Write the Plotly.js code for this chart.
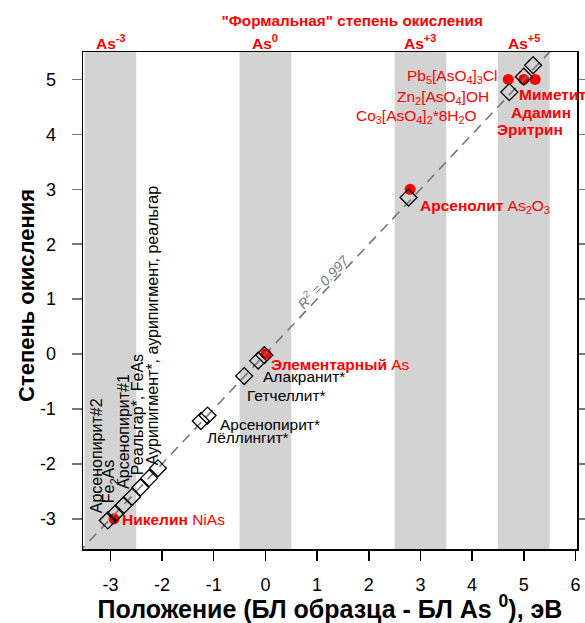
<!DOCTYPE html>
<html>
<head>
<meta charset="utf-8">
<script src="https://cdn.plot.ly/plotly-3.0.1.min.js"></script>
<style>
  html, body { margin: 0; padding: 0; background: #fff; }
  #chart { width: 585px; height: 623px; }
</style>
</head>
<body>
<div id="chart"></div>
<script>
// Formal oxidation-state bands of arsenic
const bandCenters = [-3, 0, 3, 5];
const bandLabels = ['As<sup>-3</sup>', 'As<sup>0</sup>', 'As<sup>+3</sup>', 'As<sup>+5</sup>'];

// Axis ticks (plain hyphen for negatives)
const xTickVals = [-3, -2, -1, 0, 1, 2, 3, 4, 5, 6];
const xTickText = ['-3', '-2', '-1', '0', '1', '2', '3', '4', '5', '6'];
const yTickVals = [-3, -2, -1, 0, 1, 2, 3, 4, 5];
const yTickText = ['-3', '-2', '-1', '0', '1', '2', '3', '4', '5'];

// Reference compounds placed at their formal oxidation state (red circles)
const formalX = [-2.93, 0.01, 2.80, 4.70, 5.00, 5.22];
const formalY = [-3, 0, 3, 5, 5, 5];

// Oxidation state derived from the line position (open diamonds)
const calcX = [-3.05, -2.90, -2.75, -2.58, -2.42, -2.25, -2.08, -1.25, -1.12, -0.41, -0.14, -0.02, 2.77, 4.72, 5.00, 5.18];
const calcY = [-3.03, -2.90, -2.76, -2.60, -2.43, -2.26, -2.08, -1.22, -1.12, -0.40, -0.12, -0.02, 2.85, 4.77, 5.05, 5.26];

// Linear calibration
const fitSlope = 1.0;
const fitIntercept = 0.0;
const fitR2 = 0.997;

// Compound labels
const redLabels = [
  '<b>Никелин</b> NiAs',
  '<b>Элементарный</b> As',
  '<b>Арсенолит</b> As<sub>2</sub>O<sub>3</sub>',
  '<b>Миметит</b>',
  '<b>Адамин</b>',
  '<b>Эритрин</b>'
];
const formulaLabels = [
  'Pb<sub>5</sub>[AsO<sub>4</sub>]<sub>3</sub>Cl',
  'Zn<sub>2</sub>[AsO<sub>4</sub>]OH',
  'Co<sub>3</sub>[AsO<sub>4</sub>]<sub>2</sub>*8H<sub>2</sub>O'
];
const blackLabels = ['Алакранит*', 'Гетчеллит*', 'Арсенопирит*', 'Лёллингит*'];
const verticalLabels = [
  'Арсенопирит#2',
  'Fe<sub>2</sub>As',
  'Арсенопирит#1',
  'Реальгар*, FeAs',
  'Аурипигмент*, аурипигмент, реальгар'
];

// ---- layout helpers ----
const FONT = 'Liberation Sans, Arial, sans-serif';
const RED = '#ff0000';
const LABEL_SIZE = 15.5;
const xRange = [-3.53, 6.03];
const yRange = [-3.55, 5.5];

const redPos = [[-2.77, -3.02], [0.11, -0.19], [2.99, 2.68], [4.91, 4.72], [4.75, 4.40], [4.49, 4.09]];
const formulaPos = [[4.48, 5.05], [4.33, 4.68], [4.09, 4.32]];
const blackPos = [[-0.05, -0.41], [-0.35, -0.75], [-0.88, -1.29], [-1.13, -1.52]];
const verticalPos = [[-3.27, -2.90], [-3.01, -2.72], [-2.76, -2.45], [-2.47, -2.20], [-2.18, -2.03]];

const annotations = [];
function addText(text, x, y, opts) {
  annotations.push(Object.assign({
    text: text, x: x, y: y, xref: 'x', yref: 'y', showarrow: false,
    borderpad: 0, borderwidth: 0,
    font: { family: FONT, size: LABEL_SIZE, color: '#000' }
  }, opts));
}

redLabels.forEach((t, i) => addText(t, redPos[i][0], redPos[i][1],
  { xanchor: 'left', yanchor: 'middle', font: { family: FONT, size: LABEL_SIZE, color: RED } }));
formulaLabels.forEach((t, i) => addText(t, formulaPos[i][0], formulaPos[i][1],
  { xanchor: 'right', yanchor: 'middle', font: { family: FONT, size: LABEL_SIZE, color: RED } }));
blackLabels.forEach((t, i) => addText(t, blackPos[i][0], blackPos[i][1],
  { xanchor: 'left', yanchor: 'middle' }));
verticalLabels.forEach((t, i) => addText(t, verticalPos[i][0], verticalPos[i][1],
  { xanchor: 'center', yanchor: 'bottom', textangle: -90,
    font: { family: FONT, size: 16, color: '#000' } }));

// R² of the calibration, written along the line
addText('R<sup>2</sup> = ' + fitR2.toFixed(3), 1.12, 1.33,
  { xanchor: 'center', yanchor: 'middle', textangle: -46.7,
    font: { family: FONT, size: 14, color: '#777', style: 'italic' } });

// band headings above the plot
bandCenters.forEach((c, i) => annotations.push({
  text: '<b>' + bandLabels[i] + '</b>', x: c, y: 1.02, xref: 'x', yref: 'paper',
  xanchor: 'center', yanchor: 'middle', showarrow: false, borderpad: 0, borderwidth: 0,
  font: { family: FONT, size: 15.5, color: RED }
}));

// y-axis title
annotations.push({
  text: '<b>Степень окисления</b>', xref: 'paper', yref: 'paper',
  x: (26 - 83) / 494, y: (549 - 296) / 497, xanchor: 'center', yanchor: 'middle',
  textangle: -90, showarrow: false, borderpad: 0, borderwidth: 0,
  font: { family: FONT, size: 22, color: '#000' }
});

const shapes = bandCenters.map(c => ({
  type: 'rect', xref: 'x', yref: 'paper', x0: c - 0.5, x1: c + 0.5, y0: 0, y1: 1,
  fillcolor: '#d3d3d3', line: { width: 0 }, layer: 'below'
}));

const lineX = [xRange[0] - 0.1, xRange[1] + 0.1];
const lineY = lineX.map(v => fitSlope * v + fitIntercept);

const traces = [
  {
    x: formalX, y: formalY, type: 'scatter', mode: 'markers', hoverinfo: 'skip',
    marker: { symbol: 'circle', size: 11, color: RED, line: { width: 0 } }
  },
  {
    x: lineX, y: lineY, type: 'scatter', mode: 'lines', hoverinfo: 'skip',
    line: { color: '#777', width: 1.6, dash: '10px,7px' }
  },
  {
    x: calcX, y: calcY, type: 'scatter', mode: 'markers', hoverinfo: 'skip',
    marker: { symbol: 'diamond-open', size: 13, color: '#000', line: { width: 1.3, color: '#000' } }
  }
];

const layout = {
  width: 585, height: 623,
  margin: { l: 83, r: 8, t: 52, b: 74 },
  paper_bgcolor: '#fff', plot_bgcolor: '#fff',
  showlegend: false,
  font: { family: FONT, color: '#000' },
  title: {
    text: '<b>"Формальная" степень окисления</b>',
    x: 0.545, xref: 'paper', xanchor: 'center',
    y: 1 - 21 / 623, yref: 'container', yanchor: 'middle',
    font: { family: FONT, size: 15.3, color: RED }
  },
  xaxis: {
    range: xRange, autorange: false,
    tickmode: 'array', tickvals: xTickVals, ticktext: xTickText,
    ticks: 'outside', ticklen: 10, tickwidth: 1.5, tickcolor: '#000',
    ticklabelstandoff: 9,
    tickfont: { family: FONT, size: 18, color: '#000' },
    showline: true, linecolor: '#000', linewidth: 1.5, mirror: true,
    showgrid: false, zeroline: false,
    title: {
      text: '<b>Положение (БЛ образца - БЛ As <sup>0</sup>), эВ</b>',
      font: { family: FONT, size: 25, color: '#000' }, standoff: 4
    }
  },
  yaxis: {
    range: yRange, autorange: false,
    tickmode: 'array', tickvals: yTickVals, ticktext: yTickText,
    ticks: 'outside', ticklen: 10, tickwidth: 1.5, tickcolor: '#777',
    ticklabelstandoff: 12,
    tickfont: { family: FONT, size: 18, color: '#000' },
    showline: true, linecolor: '#000', linewidth: 1.5, mirror: 'ticks',
    showgrid: false, zeroline: false
  },
  shapes: shapes,
  annotations: annotations
};

Plotly.newPlot('chart', traces, layout, { staticPlot: true, displayModeBar: false });
</script>
</body>
</html>
